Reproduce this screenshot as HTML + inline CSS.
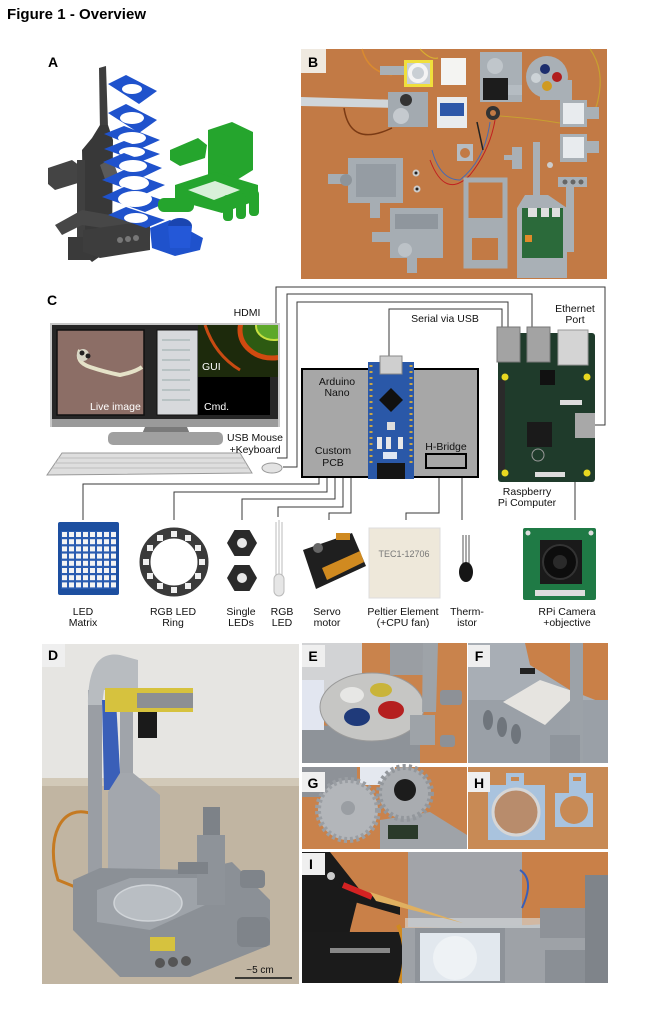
<!DOCTYPE html>
<html><head><meta charset="utf-8"><style>
html,body{margin:0;padding:0;background:#fff}
svg{display:block}
text{font-family:"Liberation Sans",Arial,sans-serif}
.lb{font-size:10.5px;fill:#111;text-anchor:middle}
.pl{font-size:14px;font-weight:bold;fill:#000;text-anchor:middle}
</style></head><body>
<svg width="651" height="1023" viewBox="0 0 651 1023" xmlns="http://www.w3.org/2000/svg">
<defs>
<clipPath id="scr"><rect x="198" y="325" width="80" height="52"/></clipPath>
</defs>
<rect width="651" height="1023" fill="#fff"/>
<text x="7" y="19" font-size="15" font-weight="bold" textLength="139">Figure 1 - Overview</text>

<!-- ===== A ===== -->
<text class="pl" x="53" y="67">A</text>
<g>
 <polygon points="99,68 106,66 108,127 100,130" fill="#3e3e3e"/>
 <polygon points="100,125 108,125 113,140 112,248 92,262 84,254 82,150 92,138" fill="#383838"/>
 <polygon points="48,168 72,160 80,166 78,183 55,190 48,184" fill="#444"/>
 <rect x="77" y="160" width="8" height="100" fill="#404040"/>
 <rect x="68" y="237" width="25" height="23" fill="#3a3a3a"/>
 <polygon points="55,225 82,210 150,222 150,235 82,225 62,235" fill="#474747"/>
 <polygon points="83,230 140,222 150,228 150,250 100,258 83,252" fill="#3d3d3d"/>
 <circle cx="120" cy="240" r="3" fill="#777"/><circle cx="128" cy="239" r="3" fill="#777"/><circle cx="136" cy="238" r="3" fill="#777"/>
 <polygon points="100,165 112,158 118,175 106,182" fill="#5a5a5a"/>
</g>
<g fill="#1f52cc">
 <polygon points="108,84 126,75 157,91 139,104"/><ellipse cx="132" cy="89" rx="10" ry="5" fill="#fff"/>
 <polygon points="108,113 126,104 157,120 139,133"/><ellipse cx="132" cy="118" rx="12" ry="6" fill="#fff"/>
 <polygon points="104,134 124,126 160,140 140,149"/><ellipse cx="132" cy="138" rx="14" ry="6" fill="#fff"/>
 <polygon points="104,149 124,141 160,154 140,162"/><ellipse cx="132" cy="152" rx="13" ry="5" fill="#fff"/>
 <polygon points="103,162 124,153 162,168 141,178"/><ellipse cx="133" cy="166" rx="14" ry="6" fill="#fff"/>
 <polygon points="102,180 124,170 165,185 143,195"/><ellipse cx="134" cy="183" rx="15" ry="7" fill="#fff"/>
 <polygon points="102,197 124,187 168,202 145,212"/><ellipse cx="135" cy="199" rx="17" ry="8" fill="#fff"/>
 <polygon points="108,215 126,207 165,220 146,228"/><ellipse cx="136" cy="218" rx="12" ry="5" fill="#fff"/>
 <polygon points="150,228 170,220 203,238 200,250 175,256 152,248"/>
 <ellipse cx="180" cy="226" rx="12" ry="8" fill="#1a45b0"/>
 <polygon points="168,226 192,226 190,248 170,248" fill="#2458d8"/>
</g>
<g fill="#25a52d">
 <polygon points="170,150 198,138 207,145 205,158 180,166 170,160"/>
 <polygon points="208,130 232,122 253,132 253,170 232,183 208,175"/>
 <polygon points="175,185 215,172 258,185 258,200 222,213 175,200"/>
 <polygon points="188,190 215,181 240,190 214,200" fill="#d8f0d8"/>
 <rect x="223" y="195" width="10" height="26" rx="4"/><rect x="236" y="193" width="10" height="26" rx="4"/><rect x="249" y="190" width="10" height="26" rx="4"/>
 <rect x="158" y="198" width="36" height="14" rx="6"/>
</g>

<!-- ===== B ===== -->
<rect x="301" y="49" width="306" height="230" fill="#c27a45"/>
<g>
 <path d="M362,49 Q368,72 392,75" stroke="#d98a30" stroke-width="1.5" fill="none"/>
 <path d="M420,49 Q430,60 438,58" stroke="#d9b030" stroke-width="1.2" fill="none"/>
 <path d="M590,49 Q605,70 598,100 Q595,115 588,112" stroke="#c8a030" stroke-width="1.2" fill="none"/>
 <rect x="380" y="66" width="24" height="9" fill="#a9b0b6"/>
 <rect x="404" y="60" width="29" height="27" fill="#f0df3c"/>
 <rect x="407" y="63" width="23" height="21" fill="#c9cfd4"/>
 <circle cx="418" cy="73" r="8" fill="none" stroke="#f4f4f4" stroke-width="4"/>
 <rect x="441" y="58" width="25" height="27" fill="#f4f4f2"/>
 <rect x="480" y="52" width="42" height="50" fill="#a9b0b6"/>
 <circle cx="495" cy="66" r="8" fill="#c0c6cb"/>
 <rect x="483" y="78" width="25" height="22" fill="#1c1c1c"/>
 <rect x="508" y="85" width="14" height="10" fill="#b5bcc2"/>
 <rect x="540" y="80" width="32" height="20" fill="#a9b0b6"/>
 <circle cx="547" cy="77" r="21" fill="#a9b0b6"/>
 <circle cx="545" cy="69" r="5" fill="#1d2e6e"/><circle cx="557" cy="77" r="5" fill="#b11d1d"/>
 <circle cx="547" cy="86" r="5" fill="#d09a20"/><circle cx="536" cy="78" r="5" fill="#cdd3d7"/>
 <polygon points="301,97 400,100 400,108 301,106" fill="#d0d6da"/>
 <path d="M344,108 Q350,148 392,128" stroke="#7a3a14" stroke-width="1.5" fill="none"/>
 <rect x="388" y="92" width="40" height="35" fill="#a3aab0"/>
 <circle cx="406" cy="100" r="6" fill="#333"/><circle cx="401" cy="116" r="8" fill="#c5cacf"/>
 <rect x="437" y="97" width="30" height="31" fill="#e9ebed"/>
 <rect x="440" y="103" width="24" height="13" fill="#2d57a8"/>
 <circle cx="493" cy="113" r="7" fill="#333"/><circle cx="493" cy="113" r="3" fill="#c27a45"/>
 <path d="M500,116 Q530,118 560,123" stroke="#c8a030" stroke-width="1" fill="none"/>
 <path d="M495,120 Q490,150 470,175 Q445,200 430,160" stroke="#c02020" stroke-width="1" fill="none"/>
 <path d="M490,122 Q485,160 460,180 Q440,180 432,150" stroke="#4a6ab0" stroke-width="1" fill="none"/>
 <line x1="477" y1="122" x2="483" y2="150" stroke="#222" stroke-width="1.5"/>
 <rect x="560" y="100" width="27" height="27" fill="#a9b0b6"/><rect x="563" y="103" width="21" height="21" fill="#e8ebee"/>
 <rect x="587" y="107" width="12" height="12" fill="#a9b0b6"/>
 <rect x="560" y="134" width="27" height="28" fill="#a9b0b6"/><rect x="563" y="137" width="21" height="21" fill="#e8ebee"/>
 <rect x="587" y="141" width="12" height="12" fill="#a9b0b6"/>
 <rect x="457" y="144" width="16" height="17" fill="#b5bcc2"/><circle cx="465" cy="153" r="5" fill="#c27a45"/>
 <rect x="512" y="147" width="10" height="22" fill="#a9b0b6"/><rect x="504" y="155" width="9" height="5" fill="#a9b0b6"/>
 <rect x="348" y="158" width="55" height="45" fill="#a6adb3"/>
 <rect x="356" y="164" width="40" height="33" fill="#959ca3"/>
 <rect x="328" y="174" width="22" height="10" fill="#a6adb3"/>
 <circle cx="346" cy="180" r="6" fill="#8d949a"/>
 <rect x="370" y="203" width="10" height="15" fill="#a6adb3"/>
 <circle cx="416" cy="173" r="3.5" fill="#ccc"/><circle cx="416" cy="173" r="1.5" fill="#222"/>
 <circle cx="417" cy="189" r="3.5" fill="#ccc"/><circle cx="417" cy="189" r="1.5" fill="#222"/>
 <rect x="390" y="208" width="53" height="50" fill="#a6adb3"/>
 <rect x="395" y="214" width="43" height="15" fill="#8f969d"/>
 <rect x="372" y="232" width="20" height="10" fill="#a6adb3"/>
 <circle cx="405" cy="250" r="7" fill="#bcc2c7"/>
 <rect x="407" y="258" width="10" height="15" fill="#a6adb3"/>
 <rect x="466" y="180" width="39" height="86" fill="none" stroke="#a6adb3" stroke-width="5"/>
 <rect x="464" y="218" width="43" height="50" fill="#a6adb3"/>
 <rect x="472" y="238" width="26" height="22" fill="#c27a45"/>
 <rect x="533" y="142" width="7" height="70" fill="#a9b0b6"/>
 <polygon points="525,195 548,195 567,208 517,208" fill="#a9b0b6"/>
 <rect x="517" y="208" width="50" height="70" fill="#a9b0b6"/>
 <rect x="522" y="208" width="41" height="50" fill="#2b6a3a"/>
 <rect x="528" y="208" width="9" height="9" fill="#e0e0e0"/><rect x="541" y="208" width="8" height="9" fill="#e0e0e0"/><rect x="552" y="208" width="8" height="9" fill="#e0e0e0"/>
 <rect x="525" y="235" width="7" height="7" fill="#e08a2a"/>
 <rect x="566" y="177" width="8" height="75" fill="#a9b0b6"/>
 <rect x="558" y="177" width="29" height="10" fill="#a9b0b6"/>
 <circle cx="565" cy="182" r="2.5" fill="#666"/><circle cx="573" cy="182" r="2.5" fill="#666"/><circle cx="581" cy="182" r="2.5" fill="#666"/>
 <circle cx="550" cy="165" r="3" fill="#ccc"/>
 <rect x="301" y="49" width="25" height="24" fill="#efe9e0"/>
 <text class="pl" x="313" y="67">B</text>
</g>

<!-- ===== C ===== -->
<text class="pl" x="52" y="305">C</text>
<g stroke="#3a3a3a" stroke-width="1" fill="none">
 <path d="M276,323 V287 H605 V425 H595"/>
 <path d="M277,458 H287 V294 H532 V327"/>
 <path d="M283,467 H297 V302 H508 V327"/>
 <path d="M389,363 V309 H502 V327"/>
 <path d="M319,477 V484 H83 V520"/>
 <path d="M327,477 V492 H174 V520"/>
 <path d="M335,477 V499 H242 V520"/>
 <path d="M343,477 V507 H278 V517"/>
 <path d="M351,477 V513 H329 V520"/>
 <path d="M439,468 V513 H406 V520"/>
 <path d="M462,477 V520"/>
 <path d="M575,482 V520"/>
</g>
<!-- monitor -->
<rect x="50" y="323" width="230" height="104" fill="#c8c8c8"/>
<rect x="52" y="325" width="226" height="96" fill="#262626"/>
<rect x="52" y="419" width="226" height="8" fill="#9a9a9a"/>
<rect x="57" y="330" width="87" height="85" fill="#8c6e66" stroke="#111" stroke-width="1.5"/>
<path d="M80,350 Q75,362 90,367 Q105,372 120,375 Q135,372 142,367" stroke="#e5e2c8" stroke-width="4" fill="none"/>
<circle cx="83" cy="355" r="6" fill="#d8d6c6"/><circle cx="82" cy="353" r="2.5" fill="#222"/><circle cx="88" cy="356" r="2.5" fill="#222"/>
<rect x="157" y="330" width="41" height="85" fill="#d7d9dc" stroke="#111" stroke-width="1"/>
<g stroke="#9aa" stroke-width="1"><line x1="162" y1="340" x2="190" y2="340"/><line x1="162" y1="350" x2="190" y2="350"/><line x1="162" y1="360" x2="190" y2="360"/><line x1="162" y1="370" x2="190" y2="370"/><line x1="162" y1="380" x2="190" y2="380"/><line x1="162" y1="390" x2="190" y2="390"/><line x1="162" y1="400" x2="190" y2="400"/></g>
<g clip-path="url(#scr)">
<rect x="198" y="325" width="80" height="52" fill="#1d2a0c"/>
<ellipse cx="272" cy="330" rx="32" ry="28" fill="#2d5a12" stroke="#d04a10" stroke-width="5"/>
<ellipse cx="274" cy="326" rx="18" ry="14" fill="#5ea82a" stroke="#c8e040" stroke-width="2"/>
<path d="M205,325 Q215,355 240,370" stroke="#c84a12" stroke-width="3" fill="none"/>
</g>
<rect x="198" y="377" width="72" height="38" fill="#000"/>
<text x="90" y="410" font-size="10.5" fill="#fff">Live image</text>
<text x="202" y="370" font-size="10.5" fill="#fff">GUI</text>
<text x="204" y="410" font-size="10.5" fill="#fff">Cmd.</text>
<polygon points="145,427 187,427 190,434 142,434" fill="#7a7a7a"/>
<rect x="108" y="432" width="115" height="13" rx="5" fill="#a0a0a0"/>
<polygon points="62,453 240,453 252,473 47,475" fill="#dedede" stroke="#999" stroke-width="1"/>
<g stroke="#bdbdbd" stroke-width="1"><line x1="58" y1="458" x2="242" y2="458"/><line x1="55" y1="463" x2="246" y2="463"/><line x1="52" y1="468" x2="249" y2="468"/></g>
<ellipse cx="272" cy="468" rx="10" ry="5" fill="#e3e3e3" stroke="#999"/>
<text class="lb" x="247" y="316">HDMI</text>
<text class="lb" x="255" y="441">USB Mouse</text>
<text class="lb" x="255" y="453">+Keyboard</text>
<!-- box -->
<rect x="302" y="369" width="176" height="108" fill="#a7a7a7" stroke="#000" stroke-width="2"/>
<rect x="426" y="454" width="40" height="14" fill="#a7a7a7" stroke="#000" stroke-width="2"/>
<text class="lb" x="337" y="385">Arduino</text>
<text class="lb" x="337" y="396">Nano</text>
<text class="lb" x="333" y="454">Custom</text>
<text class="lb" x="333" y="466">PCB</text>
<text class="lb" x="446" y="450">H-Bridge</text>
<!-- arduino -->
<rect x="368" y="362" width="46" height="117" fill="#2a58a8"/>
<line x1="371" y1="365" x2="371" y2="465" stroke="#c9a545" stroke-width="3" stroke-dasharray="2 4"/>
<line x1="411" y1="365" x2="411" y2="465" stroke="#c9a545" stroke-width="3" stroke-dasharray="2 4"/>
<rect x="380" y="356" width="22" height="18" fill="#cfcfcf" stroke="#888"/>
<polygon points="391,388 403,400 391,412 379,400" fill="#111"/>
<rect x="387" y="422" width="8" height="8" fill="#ddd"/>
<rect x="377" y="437" width="5" height="12" fill="#e8e8e8"/><rect x="386" y="437" width="5" height="12" fill="#e8e8e8"/><rect x="398" y="437" width="5" height="12" fill="#e8e8e8"/>
<rect x="383" y="452" width="14" height="7" fill="#dfe6f2"/>
<rect x="377" y="463" width="28" height="16" fill="#151515"/>
<!-- RPi -->
<rect x="498" y="333" width="97" height="149" rx="3" fill="#1f3b2b"/>
<rect x="498" y="380" width="7" height="90" fill="#2a2a2a"/>
<rect x="497" y="327" width="23" height="35" fill="#a3a3a3" stroke="#777"/>
<rect x="527" y="327" width="23" height="35" fill="#a3a3a3" stroke="#777"/>
<rect x="558" y="330" width="30" height="35" fill="#d4d4d4" stroke="#999"/>
<rect x="575" y="413" width="20" height="25" fill="#a8a8a8"/>
<rect x="527" y="422" width="25" height="25" fill="#1a1a1a"/>
<rect x="540" y="370" width="15" height="15" fill="#111"/>
<rect x="560" y="400" width="22" height="5" fill="#ddd"/>
<rect x="535" y="472" width="30" height="5" fill="#ddd"/>
<circle cx="505" cy="377" r="3.5" fill="#e8d820"/><circle cx="587" cy="377" r="3.5" fill="#e8d820"/>
<circle cx="505" cy="473" r="3.5" fill="#e8d820"/><circle cx="587" cy="473" r="3.5" fill="#e8d820"/>
<circle cx="538" cy="455" r="6" fill="none" stroke="#999" stroke-width="1"/>
<text class="lb" x="445" y="322">Serial via USB</text>
<text class="lb" x="575" y="312">Ethernet</text>
<text class="lb" x="575" y="323">Port</text>
<text class="lb" x="527" y="495">Raspberry</text>
<text class="lb" x="527" y="506">Pi Computer</text>
<!-- components -->
<rect x="58" y="522" width="61" height="73" rx="2" fill="#1d4fa0"/>
<rect x="61" y="531" width="55" height="58" fill="#2a5cb0"/>
<g fill="#f4f4f4" id="grid">
<rect x="62" y="532" width="5" height="5"/><rect x="69" y="532" width="5" height="5"/><rect x="76" y="532" width="5" height="5"/><rect x="83" y="532" width="5" height="5"/><rect x="90" y="532" width="5" height="5"/><rect x="97" y="532" width="5" height="5"/><rect x="104" y="532" width="5" height="5"/><rect x="111" y="532" width="5" height="5"/>
</g>
<use href="#grid" y="7.2"/><use href="#grid" y="14.4"/><use href="#grid" y="21.6"/><use href="#grid" y="28.8"/><use href="#grid" y="36"/><use href="#grid" y="43.2"/><use href="#grid" y="50.4"/>
<circle cx="174" cy="562" r="29" fill="none" stroke="#3a3a3a" stroke-width="11"/>
<g fill="#f0f0f0">
<rect x="199" y="559" width="6" height="6"/><rect x="195" y="573" width="6" height="6"/><rect x="185" y="583" width="6" height="6"/><rect x="171" y="587" width="6" height="6"/><rect x="157" y="583" width="6" height="6"/><rect x="147" y="573" width="6" height="6"/><rect x="143" y="559" width="6" height="6"/><rect x="147" y="545" width="6" height="6"/><rect x="157" y="535" width="6" height="6"/><rect x="171" y="531" width="6" height="6"/><rect x="185" y="535" width="6" height="6"/><rect x="195" y="545" width="6" height="6"/>
</g>
<polygon points="257,543 249.5,556 234.5,556 227,543 234.5,530 249.5,530" fill="#2a2a2a"/>
<circle cx="242" cy="543" r="5" fill="#e8e8e8"/>
<polygon points="257,578 249.5,591 234.5,591 227,578 234.5,565 249.5,565" fill="#2a2a2a"/>
<circle cx="242" cy="578" r="5" fill="#e8e8e8"/>
<g stroke="#bbb" stroke-width="1"><line x1="276" y1="522" x2="276" y2="578"/><line x1="279" y1="520" x2="279" y2="578"/><line x1="282" y1="522" x2="282" y2="578"/></g>
<rect x="274" y="574" width="10" height="22" rx="5" fill="#e6e6e6" stroke="#bbb"/>
<polygon points="303,550 352,533 366,566 316,589" fill="#1f1f1f"/>
<polygon points="322,568 360,551 364,562 327,580" fill="#d08a20"/>
<rect x="336" y="533" width="14" height="7" fill="#d08a20"/>
<circle cx="318" cy="548" r="5" fill="#666"/>
<rect x="369" y="528" width="71" height="70" fill="#eee8da" stroke="#ddd"/>
<text x="404" y="557" font-size="9" fill="#777" text-anchor="middle">TEC1-12706</text>
<g stroke="#555" stroke-width="1"><line x1="463" y1="535" x2="463" y2="568"/><line x1="466" y1="535" x2="466" y2="568"/><line x1="469" y1="535" x2="469" y2="568"/></g>
<ellipse cx="466" cy="572" rx="7" ry="10" fill="#151515"/>
<rect x="523" y="528" width="73" height="72" rx="2" fill="#1f7a45"/>
<rect x="540" y="540" width="42" height="44" fill="#1a1a1a"/>
<circle cx="560" cy="562" r="17" fill="#0d0d0d" stroke="#333" stroke-width="2"/>
<circle cx="560" cy="562" r="7" fill="#2a2a2a"/>
<rect x="535" y="590" width="50" height="6" fill="#ddd"/>
<circle cx="528" cy="533" r="2.5" fill="#ddd"/><circle cx="591" cy="533" r="2.5" fill="#ddd"/>
<text class="lb" x="83" y="615">LED</text><text class="lb" x="83" y="626">Matrix</text>
<text class="lb" x="173" y="615">RGB LED</text><text class="lb" x="173" y="626">Ring</text>
<text class="lb" x="241" y="615">Single</text><text class="lb" x="241" y="626">LEDs</text>
<text class="lb" x="282" y="615">RGB</text><text class="lb" x="282" y="626">LED</text>
<text class="lb" x="327" y="615">Servo</text><text class="lb" x="327" y="626">motor</text>
<text class="lb" x="403" y="615">Peltier Element</text><text class="lb" x="403" y="626">(+CPU fan)</text>
<text class="lb" x="467" y="615">Therm-</text><text class="lb" x="467" y="626">istor</text>
<text class="lb" x="567" y="615">RPi Camera</text><text class="lb" x="567" y="626">+objective</text>

<!-- ===== D ===== -->
<rect x="42" y="644" width="257" height="138" fill="#e6e5e2"/>
<rect x="42" y="782" width="257" height="202" fill="#c1b5a2"/>
<rect x="42" y="778" width="257" height="8" fill="#d2c9b8"/>
<path d="M95,815 C60,800 45,840 58,880 L95,895" stroke="#c57a22" stroke-width="3" fill="none"/>
<rect x="88" y="690" width="14" height="217" fill="#9a9ea4"/>
<path d="M88,705 C88,662 102,652 120,655 L138,660 L138,690 L104,690 L102,705 Z" fill="#b8bcc0"/>
<polygon points="102,700 116,700 121,790 104,790" fill="#3a5fb8"/>
<rect x="120" y="690" width="13" height="110" fill="#a0a4aa"/>
<polygon points="108,792 120,773 133,773 160,795 160,883 108,890" fill="#a3a7ad"/>
<rect x="105" y="688" width="88" height="24" fill="#d6c23e"/>
<rect x="137" y="693" width="56" height="15" fill="#8c8f93"/>
<rect x="138" y="712" width="19" height="26" fill="#1a1a1a"/>
<polygon points="73,880 100,868 197,870 232,862 270,900 270,945 190,977 120,977 73,930" fill="#8b9096"/>
<polygon points="97,890 130,878 197,878 205,905 150,930 97,922" fill="#9ea3a9"/>
<ellipse cx="148" cy="903" rx="34" ry="18" fill="#b9bec3" stroke="#d0d4d8" stroke-width="1.5"/>
<rect x="197" y="835" width="28" height="70" fill="#8e9399"/>
<rect x="203" y="807" width="17" height="28" fill="#7d8288"/>
<rect x="178" y="862" width="30" height="12" fill="#7d8288"/>
<rect x="237" y="917" width="33" height="30" rx="6" fill="#7f848a"/>
<rect x="240" y="870" width="25" height="18" rx="4" fill="#7f848a"/>
<rect x="150" y="937" width="25" height="14" fill="#d6c23e"/>
<circle cx="160" cy="963" r="5" fill="#555"/><circle cx="173" cy="962" r="5" fill="#555"/><circle cx="186" cy="961" r="5" fill="#555"/>
<line x1="235" y1="978" x2="292" y2="978" stroke="#111" stroke-width="1.5"/>
<text x="260" y="973" font-size="10" fill="#111" text-anchor="middle">~5 cm</text>
<rect x="42" y="644" width="23" height="23" fill="#efefef"/>
<text class="pl" x="53" y="660">D</text>

<!-- ===== E ===== -->
<rect x="302" y="643" width="165" height="120" fill="#c9834c"/>
<rect x="302" y="643" width="60" height="50" fill="#d2d3d5"/>
<rect x="390" y="643" width="35" height="32" fill="#9a9ea3"/>
<polygon points="302,725 420,728 420,763 302,763" fill="#8e9399"/>
<rect x="302" y="680" width="22" height="50" fill="#e2e6f0"/>
<ellipse cx="372" cy="707" rx="52" ry="34" fill="#c6c6c4" stroke="#9a9a9a"/>
<ellipse cx="352" cy="695" rx="12" ry="8" fill="#e7e7e5"/>
<ellipse cx="381" cy="690" rx="11" ry="7" fill="#c9b43a"/>
<ellipse cx="357" cy="717" rx="13" ry="9" fill="#1f3a7a"/>
<ellipse cx="391" cy="710" rx="13" ry="9" fill="#b52020"/>
<polygon points="423,643 438,643 436,712 422,712" fill="#9ea3a8"/>
<rect x="440" y="690" width="22" height="15" rx="3" fill="#8d9197"/>
<rect x="410" y="715" width="25" height="30" fill="#9ea3a8"/>
<rect x="440" y="735" width="15" height="12" rx="3" fill="#8d9197"/>
<rect x="302" y="645" width="23" height="22" fill="#efefef"/>
<text class="pl" x="313" y="661">E</text>

<!-- ===== F ===== -->
<rect x="468" y="643" width="140" height="120" fill="#a8aeb5"/>
<polygon points="525,643 608,643 608,705 570,690 530,665" fill="#c98048"/>
<rect x="468" y="700" width="140" height="63" fill="#9aa0a7"/>
<polygon points="503,702 540,680 578,693 545,725" fill="#e6e4e0"/>
<rect x="520" y="668" width="15" height="6" fill="#222"/>
<rect x="570" y="643" width="13" height="120" fill="#9ca2a8"/>
<rect x="550" y="735" width="30" height="28" fill="#8f959c"/>
<ellipse cx="488" cy="720" rx="5" ry="10" fill="#6f757c"/>
<ellipse cx="502" cy="727" rx="5" ry="10" fill="#6f757c"/>
<ellipse cx="516" cy="734" rx="5" ry="10" fill="#6f757c"/>
<rect x="468" y="645" width="22" height="22" fill="#efefef"/>
<text class="pl" x="479" y="661">F</text>

<!-- ===== G ===== -->
<rect x="302" y="767" width="165" height="82" fill="#c9824b"/>
<rect x="302" y="767" width="55" height="30" fill="#8e9298"/>
<rect x="360" y="767" width="35" height="18" fill="#e4e8ef"/>
<polygon points="380,820 430,812 467,835 467,849 380,849" fill="#9fa3a8"/>
<rect x="388" y="825" width="30" height="14" fill="#2a3a2a"/>
<circle cx="348" cy="810" r="30" fill="#b3b6ba" stroke="#9a9ea3" stroke-width="6" stroke-dasharray="3 3"/>
<circle cx="348" cy="808" r="7" fill="#9a9ea3"/>
<circle cx="405" cy="793" r="26" fill="#a9acb0" stroke="#93979c" stroke-width="6" stroke-dasharray="3 3"/>
<circle cx="405" cy="790" r="11" fill="#1c1c1c"/>
<rect x="302" y="772" width="23" height="20" fill="#efefef"/>
<text class="pl" x="313" y="788">G</text>

<!-- ===== H ===== -->
<rect x="468" y="767" width="140" height="82" fill="#c88a55"/>
<rect x="506" y="773" width="18" height="14" fill="#a9c3de"/><rect x="511" y="777" width="8" height="4" fill="#c88a55"/>
<rect x="488" y="785" width="57" height="55" fill="#a9c3de"/>
<circle cx="516" cy="812" r="23" fill="#b88c6c" stroke="#d6d6d6" stroke-width="3"/>
<rect x="569" y="773" width="17" height="21" fill="#a9c3de"/><rect x="573" y="777" width="8" height="4" fill="#c88a55"/>
<rect x="555" y="793" width="38" height="34" fill="#a9c3de"/>
<circle cx="574" cy="810" r="14" fill="#c88a55"/>
<rect x="468" y="772" width="22" height="20" fill="#efefef"/>
<text class="pl" x="479" y="788">H</text>

<!-- ===== I ===== -->
<rect x="302" y="852" width="306" height="131" fill="#c98048"/>
<rect x="408" y="852" width="114" height="75" fill="#a2a4a9"/>
<path d="M520,870 Q535,880 522,908" stroke="#3a5fb8" stroke-width="2" fill="none"/>
<polygon points="302,852 330,852 360,890 350,930 345,983 302,983" fill="#1a1a1a"/>
<polygon points="330,880 400,905 400,915 330,895" fill="#1a1a1a"/>
<rect x="302" y="932" width="100" height="51" fill="#1b1b1b"/>
<rect x="330" y="948" width="60" height="5" fill="#888"/>
<path d="M398,925 Q410,950 400,983" stroke="#d08a20" stroke-width="4" fill="none"/>
<polygon points="402,928 530,925 608,920 608,983 402,983" fill="#9ea2a7"/>
<rect x="415" y="928" width="90" height="55" fill="#8e9399"/>
<rect x="420" y="933" width="80" height="48" fill="#e2e8ee"/>
<circle cx="455" cy="958" r="22" fill="#eef2f5"/>
<rect x="405" y="918" width="140" height="10" fill="#d8dde0" opacity="0.6"/>
<rect x="540" y="908" width="68" height="30" fill="#8e9298"/>
<rect x="585" y="875" width="23" height="108" fill="#7f848a"/>
<rect x="545" y="950" width="40" height="33" fill="#8a8f95"/>
<line x1="343" y1="885" x2="372" y2="897" stroke="#d42222" stroke-width="6"/>
<polygon points="370,892 376,901 463,923" fill="#e0b060"/>
<circle cx="331" cy="876" r="4" fill="#ccc"/>
<rect x="302" y="853" width="23" height="22" fill="#efefef"/>
<text class="pl" x="311" y="869">I</text>
</svg>
</body></html>
